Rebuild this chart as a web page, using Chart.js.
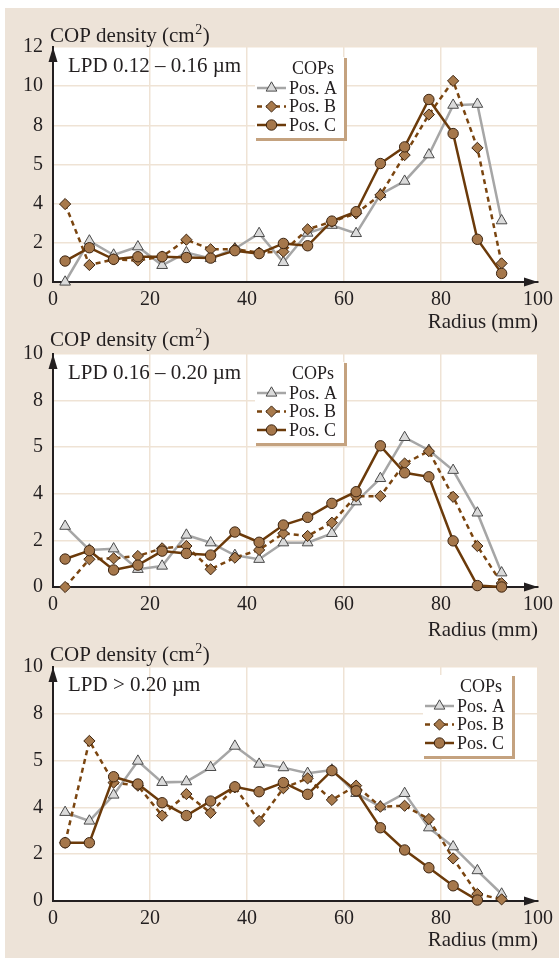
<!DOCTYPE html>
<html>
<head>
<meta charset="utf-8">
<script src="https://cdn.jsdelivr.net/npm/chart.js@4.4.1/dist/chart.umd.min.js"></script>
<style>
  body { margin: 0; background: #fff; width: 559px; height: 963px; position: relative; overflow: hidden; }
  #bg { position: absolute; left: 5px; top: 8px; width: 554px; height: 950px; background: #ede3d8; }
  canvas { position: absolute; left: 0; top: 0; }
</style>
</head>
<body>
<div id="bg"></div>
<canvas id="p1" width="559" height="963"></canvas>
<canvas id="p2" width="559" height="963"></canvas>
<canvas id="p3" width="559" height="963"></canvas>
<script>
// radius (mm) of each measured ring
const radius = [2.5, 7.5, 12.5, 17.5, 22.5, 27.5, 32.5, 37.5, 42.5, 47.5, 52.5, 57.5, 62.5, 67.5, 72.5, 77.5, 82.5, 87.5, 92.5];
const yLabelsTop = ['0', '2', '4', '5', '8', '10', '12'];
const yLabels = ['0', '2', '4', '5', '8', '10'];
const seriesNames = ['Pos. A', 'Pos. B', 'Pos. C'];
const panelLabels = ['LPD 0.12 – 0.16 µm', 'LPD 0.16 – 0.20 µm', 'LPD > 0.20 µm'];

// LPD 0.12 - 0.16
const lpd1A = [0, 2.1, 1.38, 1.8, 0.85, 1.5, 1.2, 1.7, 2.48, 1.0, 2.5, 2.9, 2.48, 4.47, 5.15, 6.5, 9.03, 9.08, 3.13];
const lpd1B = [3.98, 0.87, 1.15, 1.1, 1.3, 2.16, 1.67, 1.68, 1.5, 1.55, 2.69, 3.08, 3.5, 4.44, 6.48, 8.55, 10.27, 6.85, 0.95];
const lpd1C = [1.07, 1.75, 1.16, 1.29, 1.29, 1.25, 1.22, 1.6, 1.45, 1.97, 1.85, 3.11, 3.59, 6.05, 6.9, 9.32, 7.58, 2.18, 0.44];
// LPD 0.16 - 0.20
const lpd2A = [2.61, 1.59, 1.64, 0.76, 0.9, 2.23, 1.9, 1.36, 1.19, 1.9, 1.9, 2.3, 3.66, 4.66, 6.42, 5.87, 5.01, 3.18, 0.61];
const lpd2B = [0, 1.19, 1.23, 1.33, 1.66, 1.76, 0.76, 1.26, 1.59, 2.3, 2.19, 2.76, 3.9, 3.9, 5.3, 5.83, 3.87, 1.76, 0.16];
const lpd2C = [1.2, 1.56, 0.73, 0.94, 1.54, 1.44, 1.37, 2.36, 1.92, 2.66, 2.99, 3.59, 4.09, 6.06, 4.9, 4.73, 1.98, 0.06, 0];
// LPD > 0.20
const lpd3A = [3.79, 3.42, 4.53, 5.98, 5.07, 5.1, 5.71, 6.62, 5.85, 5.7, 5.46, 5.6, 4.6, 4.03, 4.6, 3.13, 2.32, 1.3, 0.3];
const lpd3B = [2.49, 6.84, 5.06, 4.93, 3.65, 4.57, 3.77, 4.86, 3.42, 4.82, 5.24, 4.32, 4.93, 4.03, 4.07, 3.5, 1.82, 0.3, 0.07];
const lpd3C = [2.49, 2.49, 5.31, 5.0, 4.2, 3.65, 4.27, 4.88, 4.67, 5.06, 4.56, 5.57, 4.71, 3.13, 2.18, 1.42, 0.65, 0.04, null];

const TEXT = '#231f20';
const AXIS = '#231f20';
const GRID = '#efe3d5';
const SHADOW = '#c4a27f';
const SERIF = '"Liberation Serif", "Times New Roman", serif';

Chart.defaults.font.family = SERIF;
Chart.defaults.font.size = 20;
Chart.defaults.color = TEXT;

const styles = [
  { borderColor: '#a6a6a6', pointStyle: 'triangle', pointRadius: 6.2, pointBackgroundColor: '#dadada', pointBorderColor: '#4a4a4a', borderDash: [] },
  { borderColor: '#7a4510', pointStyle: 'rectRot', pointRadius: 5.6, pointBackgroundColor: '#a87a4c', pointBorderColor: '#3c2410', borderDash: [5, 4] },
  { borderColor: '#6b3a0a', pointStyle: 'circle', pointRadius: 5.2, pointBackgroundColor: '#a5774b', pointBorderColor: '#3c2410', borderDash: [] }
];

function drawMarker(ctx, st, x, y) {
  ctx.save();
  ctx.fillStyle = st.pointBackgroundColor;
  ctx.strokeStyle = st.pointBorderColor;
  ctx.lineWidth = 1;
  ctx.setLineDash([]);
  Chart.helpers.drawPoint(ctx, { pointStyle: st.pointStyle, rotation: 0, radius: st.pointRadius, borderWidth: 1 }, x, y);
  ctx.restore();
}

const decor = {
  id: 'decor',
  beforeDraw(chart) {
    const { ctx, chartArea: a } = chart;
    ctx.save();
    ctx.fillStyle = '#fff';
    ctx.fillRect(a.left, a.top, a.right - a.left, a.bottom - a.top);
    ctx.restore();
  },
  afterDraw(chart, args, o) {
    const { ctx, chartArea: a } = chart;
    ctx.save();
    // axis arrows
    ctx.fillStyle = AXIS;
    ctx.beginPath();
    ctx.moveTo(a.left, a.top);
    ctx.lineTo(a.left - 4.5, a.top + 15);
    ctx.lineTo(a.left + 4.5, a.top + 15);
    ctx.closePath();
    ctx.fill();
    ctx.beginPath();
    ctx.moveTo(a.right, a.bottom);
    ctx.lineTo(a.right - 14, a.bottom - 4.5);
    ctx.lineTo(a.right - 14, a.bottom + 4.5);
    ctx.closePath();
    ctx.fill();

    // axis titles and panel label
    ctx.fillStyle = TEXT;
    ctx.font = '21px ' + SERIF;
    ctx.textBaseline = 'alphabetic';
    ctx.textAlign = 'left';
    let tx = a.left - 3;
    ctx.fillText('COP density (cm', tx, o.yTitleBase);
    tx += ctx.measureText('COP density (cm').width;
    ctx.font = '14px ' + SERIF;
    ctx.fillText('2', tx + 0.5, o.yTitleBase - 8);
    tx += ctx.measureText('2').width + 1;
    ctx.font = '21px ' + SERIF;
    ctx.fillText(')', tx, o.yTitleBase);
    ctx.textAlign = 'right';
    ctx.fillText('Radius (mm)', a.right, o.xTitleBase);
    ctx.textAlign = 'left';
    ctx.textBaseline = 'middle';
    ctx.fillText(o.label, a.left + 15, o.labelY);

    // legend
    const x = o.legendX, y = o.legendY, w = 89, h = 81;
    ctx.fillStyle = '#fff';
    ctx.fillRect(x, y, w, h);
    ctx.fillStyle = SHADOW;
    ctx.fillRect(x + w, y + 1, 3, h + 2);
    ctx.fillRect(x + 1, y + h, w + 2, 3);
    ctx.font = '18px ' + SERIF;
    ctx.fillStyle = TEXT;
    ctx.textAlign = 'center';
    ctx.fillText('COPs', x + 58, y + 12);
    chart.data.datasets.forEach((ds, i) => {
      const cy = y + 31 + i * 18.5;
      ctx.save();
      ctx.strokeStyle = ds.borderColor;
      ctx.lineWidth = ds.borderWidth;
      ctx.setLineDash(ds.borderDash);
      ctx.beginPath();
      ctx.moveTo(x + 2, cy);
      ctx.lineTo(x + 31, cy);
      ctx.stroke();
      ctx.restore();
      drawMarker(ctx, styles[i], x + 16.5, cy);
      ctx.fillStyle = TEXT;
      ctx.textAlign = 'left';
      ctx.fillText(ds.label, x + 34, cy + 1);
    });
    ctx.restore();
  }
};

function makePanel(id, series, ticks, box) {
  const ymax = (ticks.length - 1) * 2;
  new Chart(document.getElementById(id), {
    type: 'line',
    data: {
      datasets: series.map((vals, i) => Object.assign({
        label: seriesNames[i],
        data: radius.map((r, k) => ({ x: r, y: vals[k] })),
        borderWidth: 2.5,
        pointBorderWidth: 1,
        clip: false,
        order: 3 - i
      }, styles[i]))
    },
    options: {
      responsive: false,
      animation: false,
      events: [],
      layout: { padding: { left: 0, right: 16, top: box.top, bottom: 0 } },
      plugins: {
        legend: { display: false },
        tooltip: { enabled: false },
        decor: box
      },
      scales: {
        x: {
          type: 'linear',
          min: 0,
          max: 100,
          afterFit: s => { s.height = 963 - box.bottom; },
          ticks: { stepSize: 20, padding: 6, maxRotation: 0 },
          grid: { color: GRID, lineWidth: 1.5, drawTicks: false },
          border: { color: AXIS, width: 2 }
        },
        y: {
          min: 0,
          max: ymax,
          afterFit: s => { s.width = 53; },
          ticks: { stepSize: 2, padding: 10, callback: v => ticks[v / 2] },
          grid: { color: GRID, lineWidth: 1.5, drawTicks: false },
          border: { color: AXIS, width: 2 }
        }
      }
    },
    plugins: [decor]
  });
}

makePanel('p1', [lpd1A, lpd1B, lpd1C], yLabelsTop,
  { top: 47, bottom: 282, yTitleBase: 42, xTitleBase: 328, label: panelLabels[0], labelY: 66, legendX: 255, legendY: 57 });
makePanel('p2', [lpd2A, lpd2B, lpd2C], yLabels,
  { top: 354, bottom: 587, yTitleBase: 346, xTitleBase: 636, label: panelLabels[1], labelY: 373, legendX: 255, legendY: 362 });
makePanel('p3', [lpd3A, lpd3B, lpd3C], yLabels,
  { top: 667, bottom: 901, yTitleBase: 661, xTitleBase: 946, label: panelLabels[2], labelY: 685, legendX: 423, legendY: 675 });
</script>
</body>
</html>
